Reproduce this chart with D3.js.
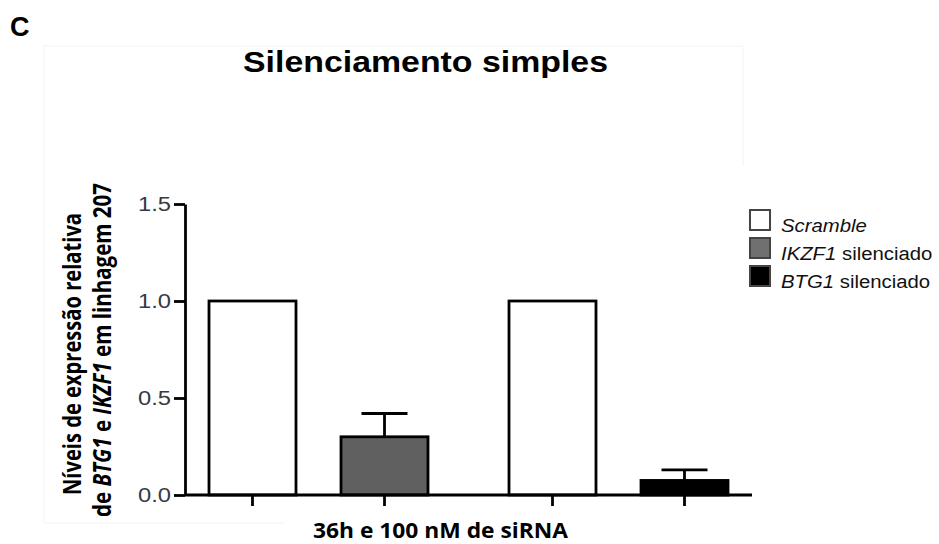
<!DOCTYPE html>
<html>
<head>
<meta charset="utf-8">
<script src="https://cdn.jsdelivr.net/npm/d3@7"></script>
<style>
  html, body { margin: 0; padding: 0; background: #fff; }
  svg { display: block; }
</style>
</head>
<body>
<script>
// Relative expression after single siRNA knock-down (36h, 100 nM)
const groups = ["IKZF1", "BTG1"];
const conditions = ["Scramble", "silenciado"];
const barGroups = ["IKZF1", "IKZF1", "BTG1", "BTG1"];
const barConditions = ["Scramble", "silenciado", "Scramble", "silenciado"];
const barMeans = [1.0, 0.30, 1.0, 0.075];
const barErrors = [0, 0.12, 0, 0.055];
const barFills = ["#ffffff", "#606060", "#ffffff", "#000000"];
const yTicks = [0, 0.5, 1.0, 1.5];
const legendNames = ["Scramble", "IKZF1", "BTG1"];
const legendSuffix = ["", " silenciado", " silenciado"];
const legendFills = ["#ffffff", "#707070", "#000000"];

const W = 939, H = 544;
const svg = d3.select("body").append("svg").attr("width", W).attr("height", H);

// faint panel outline around the chart area
svg.append("path")
  .attr("d", "M44,523 L44,46 L743,46 L743,166")
  .attr("fill", "none").attr("stroke", "#f3f3f3").attr("stroke-width", 1);
svg.append("path")
  .attr("d", "M44,523 L285,523")
  .attr("fill", "none").attr("stroke", "#f3f3f3").attr("stroke-width", 1);

// panel letter
svg.append("text").attr("x", 10).attr("y", 36)
  .attr("font-family", "Liberation Sans, Arial, sans-serif")
  .attr("font-weight", "bold").attr("font-size", 27).text("C");

// title
svg.append("text").attr("x", 425.5).attr("y", 72)
  .attr("text-anchor", "middle")
  .attr("font-family", "Liberation Sans, Arial, sans-serif")
  .attr("font-weight", "bold").attr("font-size", 29)
  .attr("textLength", 365).attr("lengthAdjust", "spacingAndGlyphs")
  .text("Silenciamento simples");

const x0 = 185, x1 = 752, yBase = 495, yTop = 204;

const y = d3.scaleLinear().domain([0, 1.5]).range([yBase, yTop]);
const xGroup = d3.scaleBand().domain(groups).range([x0, x1])
  .paddingInner(0.27).paddingOuter(0.08);
const xCond = d3.scaleBand().domain(conditions).range([0, xGroup.bandwidth()])
  .paddingInner(0.341).paddingOuter(0);

const barX = i => xGroup(barGroups[i]) + xCond(barConditions[i]);
const barC = i => barX(i) + xCond.bandwidth() / 2;

const g = svg.append("g");

// bars
g.selectAll("rect.bar").data(barMeans).join("rect")
  .attr("class", "bar")
  .attr("x", (d, i) => barX(i))
  .attr("y", d => y(d))
  .attr("width", xCond.bandwidth())
  .attr("height", d => yBase - y(d))
  .attr("fill", (d, i) => barFills[i])
  .attr("stroke", "#000").attr("stroke-width", 2.8);

// error bars (upper only)
const capHalf = 23;
barMeans.forEach((m, i) => {
  if (barErrors[i] <= 0) return;
  const cx = barC(i);
  g.append("line").attr("x1", cx).attr("x2", cx)
    .attr("y1", y(m)).attr("y2", y(m + barErrors[i]))
    .attr("stroke", "#000").attr("stroke-width", 2.8);
  g.append("line").attr("x1", cx - capHalf).attr("x2", cx + capHalf)
    .attr("y1", y(m + barErrors[i])).attr("y2", y(m + barErrors[i]))
    .attr("stroke", "#000").attr("stroke-width", 2.8);
});

// x axis: baseline and ticks under each bar
g.append("line").attr("x1", x0).attr("x2", x1)
  .attr("y1", yBase).attr("y2", yBase)
  .attr("stroke", "#000").attr("stroke-width", 2.8);
g.selectAll("line.xtick").data(barMeans).join("line")
  .attr("class", "xtick")
  .attr("x1", (d, i) => barC(i)).attr("x2", (d, i) => barC(i))
  .attr("y1", yBase).attr("y2", yBase + 11)
  .attr("stroke", "#000").attr("stroke-width", 2.8);

// y axis
const yAxis = g.append("g").attr("transform", `translate(${x0},0)`)
  .call(d3.axisLeft(y).tickValues(yTicks).tickFormat(d3.format(".1f"))
    .tickSize(11).tickSizeOuter(0).tickPadding(3));
yAxis.select(".domain").attr("stroke", "#000").attr("stroke-width", 2.8);
yAxis.selectAll(".tick line").attr("stroke", "#000").attr("stroke-width", 2.8);
yAxis.selectAll(".tick text")
  .attr("fill", "#363a45")
  .attr("font-family", "Liberation Sans, Arial, sans-serif")
  .attr("font-size", 20)
  .attr("textLength", 33).attr("lengthAdjust", "spacingAndGlyphs");

// y axis title (two lines)
const yTitle = svg.append("g")
  .attr("font-family", "Open Sans, sans-serif")
  .attr("font-weight", "bold").attr("font-size", 25)
  .attr("text-anchor", "middle");
yTitle.append("text")
  .attr("transform", "translate(81,354) rotate(-90)")
  .attr("textLength", 282).attr("lengthAdjust", "spacingAndGlyphs")
  .text("Níveis de expressão relativa");
const t2 = yTitle.append("text")
  .attr("transform", "translate(111,350) rotate(-90)")
  .attr("textLength", 334).attr("lengthAdjust", "spacingAndGlyphs");
t2.append("tspan").text("de ");
t2.append("tspan").attr("font-style", "italic").text("BTG1");
t2.append("tspan").text(" e ");
t2.append("tspan").attr("font-style", "italic").text("IKZF1");
t2.append("tspan").text(" em linhagem 207");

// x axis title
svg.append("text").attr("x", 440.5).attr("y", 538)
  .attr("text-anchor", "middle")
  .attr("font-family", "Open Sans, sans-serif")
  .attr("font-weight", "bold").attr("font-size", 21)
  .attr("textLength", 255).attr("lengthAdjust", "spacingAndGlyphs")
  .text("36h e 100 nM de siRNA");

// legend
const legY = [210, 238, 266];
const leg = svg.append("g");
legendNames.forEach((name, i) => {
  leg.append("rect").attr("x", 750).attr("y", legY[i])
    .attr("width", 20).attr("height", 20)
    .attr("fill", legendFills[i])
    .attr("stroke", "#444").attr("stroke-width", 2);
  const t = leg.append("text")
    .attr("transform", `translate(781,${legY[i] + 22}) scale(1.13,1)`)
    .attr("font-family", "Liberation Sans, Arial, sans-serif")
    .attr("font-size", 18).attr("fill", "#111");
  t.append("tspan").attr("font-style", "italic").text(name);
  if (legendSuffix[i]) t.append("tspan").text(legendSuffix[i]);
});
</script>
</body>
</html>
